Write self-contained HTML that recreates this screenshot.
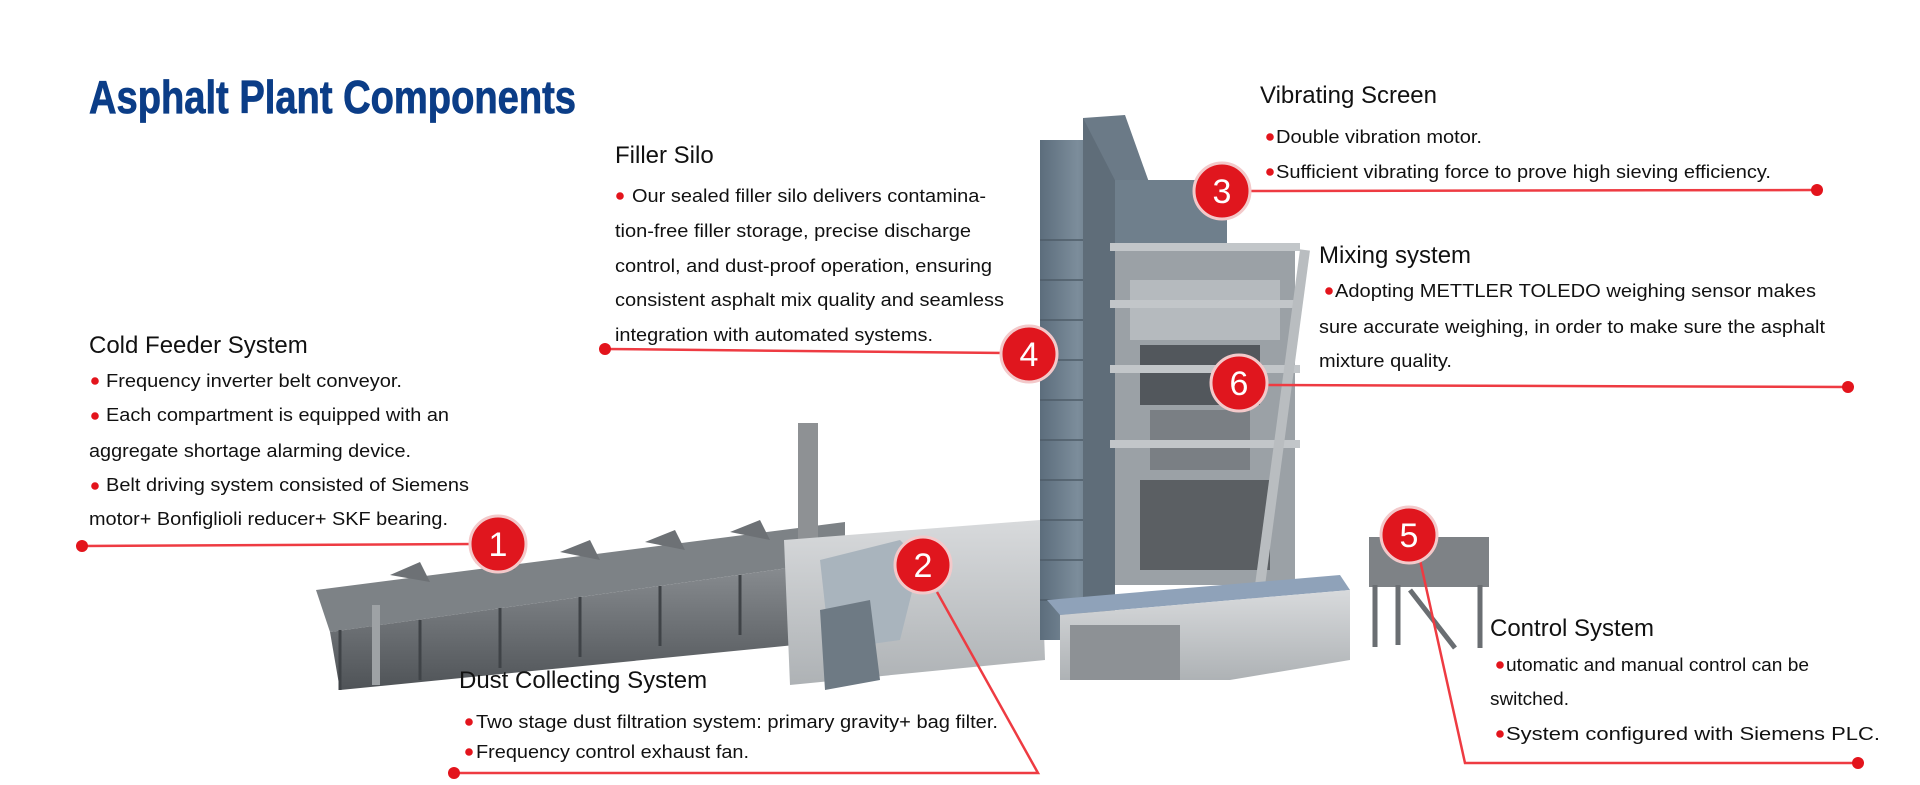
<!DOCTYPE html>
<html><head><meta charset="utf-8"><style>
html,body{margin:0;padding:0;background:#fff;}
svg{display:block;}
text{font-family:"Liberation Sans",Arial,sans-serif;}
</style></head><body>
<svg width="1920" height="785" viewBox="0 0 1920 785" xmlns="http://www.w3.org/2000/svg">
<defs>
<linearGradient id="conv" x1="0" y1="0" x2="0" y2="1"><stop offset="0" stop-color="#8b8f93"/><stop offset="1" stop-color="#4f5357"/></linearGradient>
<linearGradient id="silo" x1="0" y1="0" x2="1" y2="0"><stop offset="0" stop-color="#5c6d7c"/><stop offset="0.5" stop-color="#7c8d9b"/><stop offset="1" stop-color="#566573"/></linearGradient>
<linearGradient id="base" x1="0" y1="0" x2="0" y2="1"><stop offset="0" stop-color="#d8dadc"/><stop offset="1" stop-color="#aeb2b5"/></linearGradient>
</defs>
<!-- Title -->
<text x="89" y="113" font-size="46" font-weight="bold" fill="#0b3d87" stroke="#0b3d87" stroke-width="0.8" textLength="487" lengthAdjust="spacingAndGlyphs">Asphalt Plant Components</text>

<!-- ===== Plant illustration ===== -->
<polygon points="316,590 845,522 845,560 330,632" fill="#7d8286"/>
<polygon points="330,632 845,560 845,640 340,690" fill="url(#conv)"/>
<g stroke="#3f4347" stroke-width="3">
<line x1="340" y1="690" x2="340" y2="630"/><line x1="420" y1="680" x2="420" y2="620"/><line x1="500" y1="668" x2="500" y2="608"/><line x1="580" y1="657" x2="580" y2="597"/><line x1="660" y1="646" x2="660" y2="586"/><line x1="740" y1="635" x2="740" y2="575"/><line x1="820" y1="624" x2="820" y2="565"/>
</g>
<g fill="#6d7175">
<polygon points="390,575 420,562 430,582"/><polygon points="475,563 505,550 515,570"/><polygon points="560,552 590,540 600,560"/><polygon points="645,542 675,530 685,550"/><polygon points="730,532 760,520 770,540"/>
</g>
<rect x="372" y="605" width="8" height="80" fill="#9ea2a5"/>
<rect x="798" y="423" width="20" height="205" fill="#8e9194"/>
<polygon points="784,540 1040,520 1045,660 790,685" fill="url(#base)"/>
<polygon points="820,560 900,540 920,560 900,640 830,650" fill="#a9b4bd"/>
<polygon points="820,610 870,600 880,680 825,690" fill="#6e7a84"/>
<rect x="1040" y="140" width="75" height="500" fill="url(#silo)"/>
<g stroke="#4e5c68" stroke-width="1.5">
<line x1="1040" y1="240" x2="1115" y2="240"/><line x1="1040" y1="280" x2="1115" y2="280"/><line x1="1040" y1="320" x2="1115" y2="320"/><line x1="1040" y1="360" x2="1115" y2="360"/><line x1="1040" y1="400" x2="1115" y2="400"/><line x1="1040" y1="440" x2="1115" y2="440"/><line x1="1040" y1="480" x2="1115" y2="480"/><line x1="1040" y1="520" x2="1115" y2="520"/><line x1="1040" y1="560" x2="1115" y2="560"/><line x1="1040" y1="600" x2="1115" y2="600"/>
</g>
<rect x="1083" y="118" width="32" height="500" fill="#5f6d79"/>
<polygon points="1083,118 1125,115 1150,185 1120,190" fill="#6b7a87"/>
<rect x="1115" y="180" width="112" height="65" fill="#6f7f8c"/>
<rect x="1115" y="245" width="180" height="340" fill="#9ba1a6"/>
<rect x="1130" y="280" width="150" height="60" fill="#b5babe"/>
<rect x="1140" y="345" width="120" height="60" fill="#52575c"/>
<rect x="1150" y="410" width="100" height="60" fill="#7a7f84"/>
<rect x="1140" y="480" width="130" height="90" fill="#5b5f63"/>
<g fill="#c2c6c9"><rect x="1110" y="243" width="190" height="8"/><rect x="1110" y="300" width="190" height="8"/><rect x="1110" y="365" width="190" height="8"/><rect x="1110" y="440" width="190" height="8"/></g>
<line x1="1250" y1="660" x2="1305" y2="250" stroke="#b9bdc0" stroke-width="10"/>
<polygon points="1047,600 1340,575 1350,590 1060,615" fill="#8fa2b9"/>
<polygon points="1060,615 1350,590 1350,660 1230,680 1060,680" fill="url(#base)"/>
<rect x="1070" y="625" width="110" height="55" fill="#8d9195"/>
<rect x="1369" y="537" width="120" height="50" fill="#7e8286"/>
<g stroke="#6a6e72" stroke-width="5">
<line x1="1375" y1="585" x2="1375" y2="647"/><line x1="1398" y1="585" x2="1398" y2="645"/><line x1="1480" y1="585" x2="1480" y2="648"/><line x1="1410" y1="590" x2="1455" y2="648"/>
</g>

<!-- ===== Connectors ===== -->
<g stroke="#ee3b42" stroke-width="2.5" fill="none">
<line x1="605" y1="349" x2="1005" y2="353"/>
<line x1="1245" y1="191" x2="1817" y2="190"/>
<line x1="1262" y1="385" x2="1848" y2="387"/>
<line x1="82" y1="546" x2="475" y2="544"/>
<polyline points="454,773 1038,773 937,592"/>
<polyline points="1420,560 1465,763 1858,763"/>
</g>
<g fill="#e3141c">
<circle cx="605" cy="349" r="6"/><circle cx="1817" cy="190" r="6"/><circle cx="1848" cy="387" r="6"/><circle cx="82" cy="546" r="6"/><circle cx="454" cy="773" r="6"/><circle cx="1858" cy="763" r="6"/>
</g>
<g stroke="#f3c9ca" stroke-width="3" fill="#e0161e">
<circle cx="498" cy="544" r="28"/><circle cx="923" cy="565" r="28"/><circle cx="1222" cy="191" r="28"/><circle cx="1029" cy="354" r="28"/><circle cx="1409" cy="535" r="28"/><circle cx="1239" cy="383" r="28"/>
</g>
<g fill="#fff" font-size="34" text-anchor="middle">
<text x="498" y="556">1</text><text x="923" y="577">2</text><text x="1222" y="203">3</text><text x="1029" y="366">4</text><text x="1409" y="547">5</text><text x="1239" y="395">6</text>
</g>

<!-- ===== Texts ===== -->
<g fill="#111" font-size="24">
<text x="615" y="163">Filler Silo</text>
<text x="1260" y="103">Vibrating Screen</text>
<text x="1319" y="263">Mixing system</text>
<text x="89" y="353">Cold Feeder System</text>
<text x="459" y="688">Dust Collecting System</text>
<text x="1490" y="636">Control System</text>
</g>
<g fill="#e3141c">
<circle cx="620" cy="196" r="3.8"/>
<circle cx="1270" cy="137" r="3.8"/><circle cx="1270" cy="172" r="3.8"/>
<circle cx="1329" cy="291" r="3.8"/>
<circle cx="95" cy="381" r="3.8"/><circle cx="95" cy="416" r="3.8"/><circle cx="95" cy="486" r="3.8"/>
<circle cx="469" cy="722" r="3.8"/><circle cx="469" cy="752" r="3.8"/>
<circle cx="1500" cy="665" r="3.8"/><circle cx="1500" cy="734" r="3.8"/>
</g>
<g fill="#111" font-size="18.5">
<text x="632" y="202" textLength="354" lengthAdjust="spacingAndGlyphs">Our sealed filler silo delivers contamina-</text>
<text x="615" y="237" textLength="356" lengthAdjust="spacingAndGlyphs">tion-free filler storage, precise discharge</text>
<text x="615" y="272" textLength="377" lengthAdjust="spacingAndGlyphs">control, and dust-proof operation, ensuring</text>
<text x="615" y="306" textLength="389" lengthAdjust="spacingAndGlyphs">consistent asphalt mix quality and seamless</text>
<text x="615" y="341" textLength="318" lengthAdjust="spacingAndGlyphs">integration with automated systems.</text>

<text x="1276" y="143" textLength="206" lengthAdjust="spacingAndGlyphs">Double vibration motor.</text>
<text x="1276" y="178" textLength="495" lengthAdjust="spacingAndGlyphs">Sufficient vibrating force to prove high sieving efficiency.</text>

<text x="1335" y="297" textLength="481" lengthAdjust="spacingAndGlyphs">Adopting METTLER TOLEDO weighing sensor makes</text>
<text x="1319" y="333" textLength="506" lengthAdjust="spacingAndGlyphs">sure accurate weighing, in order to make sure the asphalt</text>
<text x="1319" y="367" textLength="133" lengthAdjust="spacingAndGlyphs">mixture quality.</text>

<text x="106" y="387" textLength="296" lengthAdjust="spacingAndGlyphs">Frequency inverter belt conveyor.</text>
<text x="106" y="421" textLength="343" lengthAdjust="spacingAndGlyphs">Each compartment is equipped with an</text>
<text x="89" y="457" textLength="322" lengthAdjust="spacingAndGlyphs">aggregate shortage alarming device.</text>
<text x="106" y="491" textLength="363" lengthAdjust="spacingAndGlyphs">Belt driving system consisted of Siemens</text>
<text x="89" y="525" textLength="359" lengthAdjust="spacingAndGlyphs">motor+ Bonfiglioli reducer+ SKF bearing.</text>

<text x="476" y="728" textLength="522" lengthAdjust="spacingAndGlyphs">Two stage dust filtration system: primary gravity+ bag filter.</text>
<text x="476" y="758" textLength="273" lengthAdjust="spacingAndGlyphs">Frequency control exhaust fan.</text>

<text x="1506" y="671" textLength="303" lengthAdjust="spacingAndGlyphs">utomatic and manual control can be</text>
<text x="1490" y="705" textLength="79" lengthAdjust="spacingAndGlyphs">switched.</text>
<text x="1506" y="740" textLength="374" lengthAdjust="spacingAndGlyphs">System configured with Siemens PLC.</text>
</g>
</svg>
</body></html>
